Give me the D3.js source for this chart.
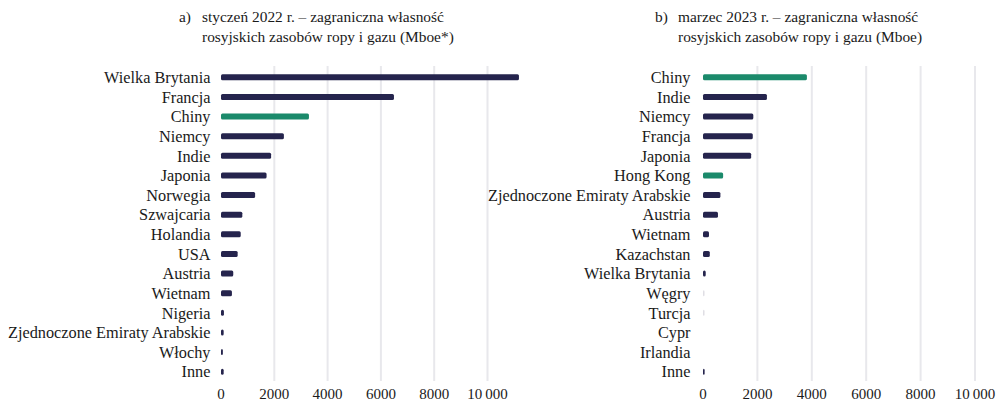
<!DOCTYPE html>
<html>
<head>
<meta charset="utf-8">
<script src="https://cdn.jsdelivr.net/npm/d3@7"></script>
<style>
  body { margin: 0; background: #fff; }
  svg { display: block; font-family: "Liberation Serif", "DejaVu Serif", serif; }
</style>
</head>
<body>
<div id="chart"></div>
<script>
/* Panel a) – January 2022 */
const countriesA = [
  "Wielka Brytania", "Francja", "Chiny", "Niemcy", "Indie", "Japonia",
  "Norwegia", "Szwajcaria", "Holandia", "USA", "Austria", "Wietnam",
  "Nigeria", "Zjednoczone Emiraty Arabskie", "Włochy", "Inne"
];
const valuesA = [11180, 6490, 3300, 2360, 1880, 1710, 1280, 800, 740, 625, 460, 410, 110, 100, 70, 100];
const highlightA = ["Chiny"];

/* Panel b) – March 2023 */
const countriesB = [
  "Chiny", "Indie", "Niemcy", "Francja", "Japonia", "Hong Kong",
  "Zjednoczone Emiraty Arabskie", "Austria", "Wietnam", "Kazachstan",
  "Wielka Brytania", "Węgry", "Turcja", "Cypr", "Irlandia", "Inne"
];
const valuesB = [3820, 2350, 1850, 1830, 1770, 740, 640, 550, 220, 250, 100, 20, 20, 0, 0, 60];
const highlightB = ["Chiny", "Hong Kong"];

const ticks = [0, 2000, 4000, 6000, 8000, 10000];
const titleA = ["styczeń 2022 r. – zagraniczna własność", "rosyjskich zasobów ropy i gazu (Mboe*)"];
const titleB = ["marzec 2023 r. – zagraniczna własność", "rosyjskich zasobów ropy i gazu (Mboe)"];

const width = 1004, height = 404;
const navy = "#25244d", green = "#1b8a6b";

const svg = d3.select("#chart")
  .append("svg")
  .attr("width", width)
  .attr("height", height);

const fmt = d => d >= 10000 ? d3.format(",")(d).replace(",", "\u2009") : String(d);

const drawPanel = (names, values, highlight, title, letter, x0, x1, labelRight, titleX) => {

  const x = d3.scaleLinear().domain([0, 10000]).range([x0, x1]);
  const y = d3.scalePoint().domain(names).range([77.3, 371.7]);

  /* Gridlines */
  svg.append("g")
    .selectAll("line")
    .data(ticks.slice(1))
    .join("line")
      .attr("x1", d => x(d))
      .attr("x2", d => x(d))
      .attr("y1", 66)
      .attr("y2", 381)
      .attr("stroke", "#e8e8ec")
      .attr("stroke-width", 2);

  /* Tick labels */
  svg.append("g")
    .selectAll("text")
    .data(ticks)
    .join("text")
      .attr("x", d => x(d))
      .attr("y", 399)
      .attr("text-anchor", "middle")
      .attr("font-size", "15px")
      .attr("fill", "#1a1a1a")
      .text(fmt);

  /* Bars */
  const data = names.map((n, i) => ({ name: n, value: values[i] }));
  svg.append("g")
    .selectAll("rect")
    .data(data.filter(d => d.value > 0))
    .join("rect")
      .attr("x", x(0))
      .attr("y", d => y(d.name) - 3)
      .attr("width", d => Math.max(x(d.value) - x(0), 1.5))
      .attr("height", 6)
      .attr("rx", 1.5)
      .attr("fill", d => highlight.includes(d.name) ? green : navy)
      .attr("opacity", d => d.value < 50 ? 0.15 : 1);

  /* Category labels */
  svg.append("g")
    .selectAll("text")
    .data(names)
    .join("text")
      .attr("x", labelRight)
      .attr("y", d => y(d))
      .attr("dy", "0.35em")
      .attr("text-anchor", "end")
      .attr("font-size", "16.3px")
      .attr("fill", "#1a1a1a")
      .text(d => d);

  /* Title */
  const t = svg.append("g").attr("font-size", "15.4px").attr("fill", "#1a1a1a");
  t.append("text").attr("x", titleX - 23).attr("y", 22).text(letter);
  t.selectAll("text.line")
    .data(title)
    .join("text")
      .attr("class", "line")
      .attr("x", titleX)
      .attr("y", (d, i) => 22 + i * 20)
      .text(d => d);
};

drawPanel(countriesA, valuesA, highlightA, titleA, "a)", 221, 487.5, 210.5, 202);
drawPanel(countriesB, valuesB, highlightB, titleB, "b)", 703, 975, 690.5, 678);
</script>
</body>
</html>
